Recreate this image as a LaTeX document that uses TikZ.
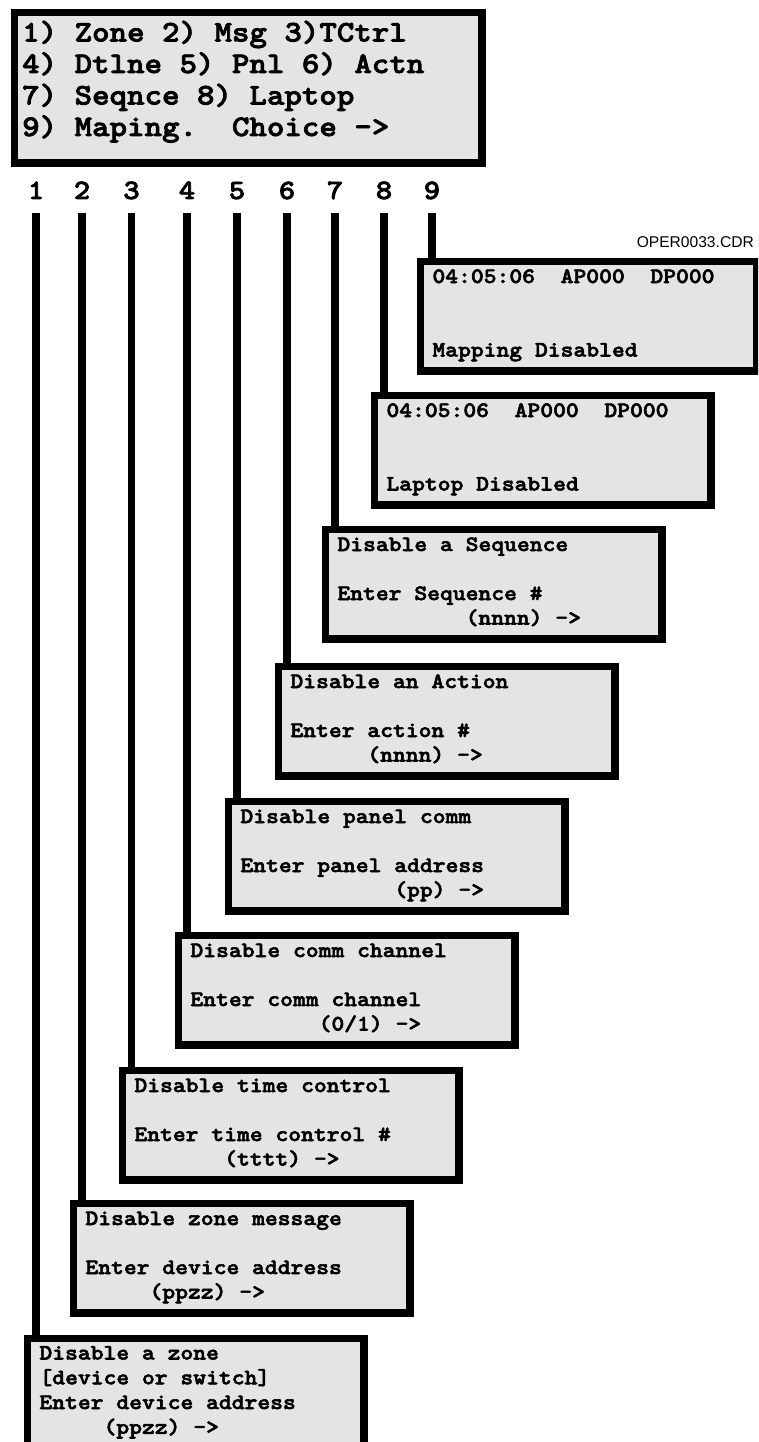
\documentclass[tikz,border=0pt]{standalone}
\usepackage{fontspec}
\setmainfont{Liberation Sans}
\newfontfamily\cour{lmmonolt10-bold.otf}[FakeStretch=1.11,FakeBold=2.5]
\definecolor{lcd}{RGB}{228,228,228}
\tikzset{
  lcdbox/.style={draw=black, line width=7.5pt, fill=lcd, minimum width=336.5pt,
    minimum height=109.5pt, inner sep=0pt, anchor=north west},
  lcdtxt/.style={anchor=base west, inner sep=0pt, font=\cour\fontsize{22}{24}\selectfont},
  menutxt/.style={anchor=base west, inner sep=0pt, font=\cour\fontsize{30}{31}\selectfont},
  numtxt/.style={anchor=base, inner sep=0pt, font=\cour\fontsize{28}{28}\selectfont},
  lead/.style={line width=7.5pt},
}
% #1 name, #2 left, #3 top (outer), #4-#7 lines
\newcommand\lcdpanel[7]{%
  \node[lcdbox] (#1) at (#2+3.75,#3+3.75) {};
  \node[lcdtxt] (#1-a) at ([xshift=15.5pt,yshift=-25.25pt]#1.north west) {#4};
  \node[lcdtxt] (#1-b) at ([xshift=15.5pt,yshift=-49.75pt]#1.north west) {#5};
  \node[lcdtxt] (#1-c) at ([xshift=15.5pt,yshift=-74.25pt]#1.north west) {#6};
  \node[lcdtxt] (#1-d) at ([xshift=15.5pt,yshift=-98.75pt]#1.north west) {#7};
}
\begin{document}
\begin{tikzpicture}[x=1pt,y=-1pt]
\useasboundingbox (0,0) rectangle (758,1442);
\clip (0,0) rectangle (758,1442);
\fill[white] (0,0) rectangle (758,1442);

% menu
\node[draw=black, line width=7.5pt, fill=lcd, inner sep=0pt, anchor=north west,
  minimum width=467.5pt, minimum height=150.5pt] (menu) at (10.75,8.75) {};
\node[menutxt] (m1) at (22,41.5) {1) Zone 2) Msg 3)TCtrl};
\node[menutxt] (m2) at (22,73) {4) Dtlne 5) Pnl 6) Actn};
\node[menutxt] (m3) at (22,104.5) {7) Seqnce 8) Laptop};
\node[menutxt] (m4) at (22,136) {9) Maping.~~Choice ->};

% numbers
\node[numtxt] (n1) at (36,199) {1};
\node[numtxt] (n2) at (82,199) {2};
\node[numtxt] (n3) at (131.5,199) {3};
\node[numtxt] (n4) at (187,199) {4};
\node[numtxt] (n5) at (237,199) {5};
\node[numtxt] (n6) at (287,199) {6};
\node[numtxt] (n7) at (335,199) {7};
\node[numtxt] (n8) at (384,199) {8};
\node[numtxt] (n9) at (432,199) {9};

\node[anchor=base east, inner sep=0pt, font=\fontsize{15.6}{16}\selectfont] (file) at (754,247) {OPER0033.CDR};

% panels
\lcdpanel{b9}{413}{254}{04:05:06~~AP000~~DP000}{}{}{Mapping Disabled}
\lcdpanel{b8}{367}{388}{04:05:06~~AP000~~DP000}{}{}{Laptop Disabled}
\lcdpanel{b7}{318}{522}{Disable a Sequence}{}{Enter Sequence \#}{~~~~~~~~~~(nnnn) ->}
\lcdpanel{b6}{271}{659}{Disable an Action}{}{Enter action \#}{~~~~~~(nnnn) ->}
\lcdpanel{b5}{221}{794}{Disable panel comm}{}{Enter panel address}{~~~~~~~~~~~~(pp) ->}
\lcdpanel{b4}{171}{928}{Disable comm channel}{}{Enter comm channel}{~~~~~~~~~~(0/1) ->}
\lcdpanel{b3}{115}{1063}{Disable time control}{}{Enter time control \#}{~~~~~~~(tttt) ->}
\lcdpanel{b2}{66}{1196}{Disable zone message}{}{Enter device address}{~~~~~(ppzz) ->}
\node[lcdbox, minimum height=140pt] (b1) at (23.75,1334.75) {};
\node[lcdtxt] (b1-a) at ([xshift=15.5pt,yshift=-24.75pt]b1.north west) {Disable a zone};
\node[lcdtxt] (b1-b) at ([xshift=15.5pt,yshift=-49.5pt]b1.north west) {[device or switch]};
\node[lcdtxt] (b1-c) at ([xshift=15.5pt,yshift=-74.25pt]b1.north west) {Enter device address};
\node[lcdtxt] (b1-d) at ([xshift=15.5pt,yshift=-99pt]b1.north west) {~~~~~(ppzz) ->};

% leaders
\foreach \i in {1,...,9}{
  \draw[lead] ([yshift=-14pt]n\i.base) -- (n\i.base |- b\i.north);
}
\end{tikzpicture}
\end{document}
